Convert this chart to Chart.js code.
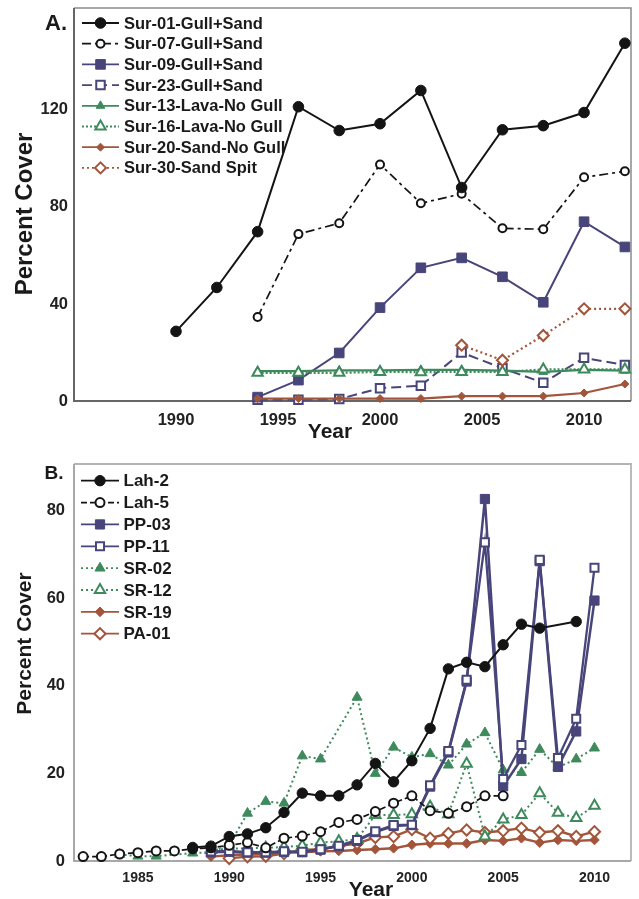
<!DOCTYPE html>
<html><head><meta charset="utf-8">
<script src="https://cdn.jsdelivr.net/npm/chart.js@4.4.1/dist/chart.umd.min.js"></script>
<style>
html,body{margin:0;padding:0;background:#fff;}
#wrap{position:relative;width:639px;height:899px;overflow:hidden;}
</style></head><body>
<div id="wrap">
<div style="position:absolute;left:0;top:0;width:639px;height:445px"><canvas id="ca" width="639" height="445"></canvas></div>
<div style="position:absolute;left:0;top:445px;width:639px;height:454px"><canvas id="cb" width="639" height="454"></canvas></div>
</div>
<script>
// ---------- Panel A data ----------
const yearsA = [1990,1992,1994,1996,1998,2000,2002,2004,2006,2008,2010,2012];
const sur01 = [28.7,46.8,69.8,121.3,111.5,114.3,128,88,111.8,113.5,118.9,147.5];
const sur07 = [null,null,34.6,68.8,73.3,97.5,81.5,85.4,71.2,70.8,92.2,94.7];
const sur09 = [null,null,1.6,8.6,19.8,38.5,54.9,59,51.2,40.7,73.9,63.5];
const sur23 = [null,null,0.5,0.5,0.8,5.3,6.3,20,13.5,7.5,17.8,14.8];
const sur13 = [null,null,12.3,12.3,12.6,12.6,12.8,12.8,12.5,12,12.8,12.5];
const sur16 = [null,null,11.6,11.6,11.6,12,11.9,12,12,13,13,13];
const sur20 = [null,null,1,1,1,1,1,2,2,2,3.3,7];
const sur30 = [null,null,null,null,null,null,null,23,16.8,27,38,38];
const xTicksA = [1990,1995,2000,2005,2010];
const yTicksA = [0,40,80,120];

// ---------- Panel B data ----------
const yearsB = [1982,1983,1984,1985,1986,1987,1988,1989,1990,1991,1992,1993,1994,1995,1996,1997,1998,1999,2000,2001,2002,2003,2004,2005,2006,2007,2008,2009,2010];
const lah2 = [null,null,null,null,null,null,3.1,3.4,5.6,6.2,7.6,11.1,15.5,14.9,14.9,17.4,22.3,18.1,22.9,30.3,43.9,45.4,44.4,49.4,54.1,53.2,null,54.7,null];
const lah5 = [1.0,1.0,1.6,1.9,2.3,2.3,2.8,3.0,3.6,4.2,3.0,5.2,5.7,6.7,8.8,9.5,11.3,13.2,14.9,11.5,10.9,12.4,14.9,14.9,null,null,null,null,null];
const pp03 = [null,null,null,null,null,null,null,2.0,2.1,1.9,1.9,2.1,2.0,2.6,3.4,4.6,6.6,8.0,8.2,17.0,24.8,41.0,82.7,17.1,23.3,68.5,21.5,29.6,59.5];
const pp11 = [null,null,null,null,null,null,null,2.2,2.3,2.0,2.0,2.2,2.1,2.7,3.5,4.8,6.8,8.2,8.3,17.3,25.1,41.4,72.8,18.7,26.5,68.8,23.5,32.5,67.0];
const sr02 = [null,null,1.5,1.1,1.1,null,1.8,2.0,3.7,10.9,13.6,13.2,24.0,23.3,null,37.4,20.0,26.0,23.7,24.5,21.9,26.7,29.3,20.8,20.2,25.5,21.4,23.3,25.8];
const sr12 = [null,null,null,null,null,null,null,2.5,2.8,2.9,3.0,3.2,3.5,4.2,4.5,5.0,10.5,10.5,10.7,12.4,10.7,22.2,5.6,9.5,10.5,15.5,11.0,9.8,12.6];
const sr19 = [null,null,null,null,null,null,null,1.0,1.3,1.5,1.7,2.0,2.0,2.2,2.3,2.5,2.7,2.9,3.7,4.0,4.0,4.0,4.8,4.6,5.2,4.2,4.8,4.6,4.8];
const pa01 = [null,null,null,null,null,null,null,null,0.6,1.0,1.1,1.7,2.5,2.7,3.4,4.0,5.4,5.6,7.2,5.2,6.3,7.1,6.5,6.9,7.5,6.5,6.9,5.6,6.7];
const xTicksB = [1985,1990,1995,2000,2005,2010];
const yTicksB = [0,20,40,60,80];

// ---------- styling ----------
const FONT = "'Liberation Sans', Arial, Helvetica, sans-serif";
const BLACK = '#141414', PURPLE = '#47457A', GREEN = '#3E8A5D', BROWN = '#A2553B';

function pts(years, vals){ return years.map((x,i)=>({x:x, y:vals[i]})); }
function ds(label, years, vals, color, style, filled, radius, dash, width, order){
  return {
    label: label, data: pts(years, vals),
    borderColor: color, borderWidth: width, borderDash: dash,
    pointStyle: style, pointRadius: radius, pointHoverRadius: radius,
    pointBackgroundColor: filled ? color : '#ffffff',
    pointBorderColor: color, pointBorderWidth: filled ? 1 : 2,
    spanGaps: true, tension: 0, fill: false, clip: false, order: order
  };
}

const framePlugin = {
  id: 'frame',
  beforeDatasetsDraw(chart, args, o){
    const ctx = chart.ctx, a = chart.chartArea;
    ctx.save();
    ctx.strokeStyle = o.light; ctx.lineWidth = o.lw;
    ctx.beginPath(); ctx.moveTo(a.left, a.top); ctx.lineTo(a.right, a.top); ctx.lineTo(a.right, a.bottom); ctx.stroke();
    ctx.strokeStyle = o.dark; ctx.lineWidth = o.dw;
    ctx.beginPath(); ctx.moveTo(a.left, a.top); ctx.lineTo(a.left, a.bottom); ctx.lineTo(a.right, a.bottom); ctx.stroke();
    ctx.restore();
  }
};

const legendPlugin = {
  id: 'lineLegend',
  afterDatasetsDraw(chart, args, o){
    const ctx = chart.ctx, a = chart.chartArea;
    chart.data.datasets.forEach((d, i) => {
      const y = a.top + o.y0 + i * o.dy;
      const x0 = a.left + o.x0, x1 = a.left + o.x1;
      ctx.save();
      ctx.strokeStyle = d.borderColor; ctx.lineWidth = Math.min(d.borderWidth, 1.8);
      ctx.setLineDash(d.borderDash || []);
      ctx.beginPath(); ctx.moveTo(x0, y); ctx.lineTo(x1, y); ctx.stroke();
      ctx.setLineDash([]);
      ctx.fillStyle = d.pointBackgroundColor; ctx.strokeStyle = d.pointBorderColor; ctx.lineWidth = d.pointBorderWidth;
      Chart.helpers.drawPoint(ctx, {pointStyle: d.pointStyle, radius: d.pointRadius, rotation: 0, borderWidth: d.pointBorderWidth}, (x0 + x1) / 2, y);
      ctx.fillStyle = '#1a1a1a'; ctx.font = o.font; ctx.textBaseline = 'middle'; ctx.textAlign = 'left';
      ctx.fillText(d.label, a.left + o.tx, y + 1);
      ctx.restore();
    });
  }
};

const textPlugin = {
  id: 'texts',
  afterDraw(chart, args, o){
    const ctx = chart.ctx;
    (o.items || []).forEach(t => {
      ctx.save();
      ctx.font = t.font; ctx.fillStyle = '#1a1a1a';
      ctx.textAlign = 'center'; ctx.textBaseline = 'middle';
      ctx.translate(t.x, t.y);
      if (t.rot) ctx.rotate(t.rot);
      ctx.fillText(t.text, 0, 0);
      ctx.restore();
    });
  }
};

function scales(xmin, xmax, xt, ymax, yt, xfont, yfont, xpad, ypad, xh){
  return {
    x: {
      type: 'linear', min: xmin, max: xmax,
      afterBuildTicks: s => { s.ticks = xt.map(v => ({value: v})); },
      ticks: {font: {family: FONT, size: xfont, weight: 'bold'}, color: '#222', padding: xpad, maxRotation: 0, autoSkip: false, callback: v => String(v)},
      grid: {display: false, drawTicks: false}, border: {display: false},
      afterFit: s => { s.height = xh; s.paddingLeft = 0; s.paddingRight = 0; }
    },
    y: {
      type: 'linear', min: 0, max: ymax,
      afterBuildTicks: s => { s.ticks = yt.map(v => ({value: v})); },
      ticks: {font: {family: FONT, size: yfont, weight: 'bold'}, color: '#222', padding: ypad, callback: v => String(v)},
      grid: {display: false, drawTicks: false}, border: {display: false},
      afterFit: s => { s.width = 74; s.paddingTop = 0; s.paddingBottom = 0; }
    }
  };
}

new Chart(document.getElementById('ca'), {
  type: 'line',
  data: {datasets: [
    ds('Sur-01-Gull+Sand', yearsA, sur01, BLACK, 'circle', true, 5.3, [], 2, 0),
    ds('Sur-07-Gull+Sand', yearsA, sur07, BLACK, 'circle', false, 4, [9,4,3,4], 1.7, 1),
    ds('Sur-09-Gull+Sand', yearsA, sur09, PURPLE, 'rect', true, 6.8, [], 2, 6),
    ds('Sur-23-Gull+Sand', yearsA, sur23, PURPLE, 'rect', false, 6, [10,5], 2, 7),
    ds('Sur-13-Lava-No Gull', yearsA, sur13, GREEN, 'triangle', true, 5, [], 2.2, 5),
    ds('Sur-16-Lava-No Gull', yearsA, sur16, GREEN, 'triangle', false, 6, [2,2], 2.2, 4),
    ds('Sur-20-Sand-No Gull', yearsA, sur20, BROWN, 'rectRot', true, 4, [], 2.2, 2),
    ds('Sur-30-Sand Spit', yearsA, sur30, BROWN, 'rectRot', false, 5.5, [2,3], 2.2, 3)
  ]},
  options: {
    responsive: false, animation: false, events: [],
    layout: {padding: {left: 0, top: 5, right: 4, bottom: 0}},
    scales: scales(1985, 2012.3, xTicksA, 162, yTicksA, 16.5, 16.5, 10, 6, 44),
    plugins: {
      legend: {display: false}, tooltip: {enabled: false},
      frame: {light: '#8c8c8c', lw: 1.5, dark: '#666666', dw: 2},
      lineLegend: {x0: 8, x1: 45, tx: 50, y0: 15, dy: 20.7, font: "bold 16.5px " + FONT},
      texts: {items: [
        {text: 'A.', x: 56, y: 24, font: 'bold 22px ' + FONT},
        {text: 'Percent Cover', x: 25, y: 214, rot: -Math.PI/2, font: 'bold 24px ' + FONT},
        {text: 'Year', x: 330, y: 432, font: 'bold 21px ' + FONT}
      ]}
    }
  },
  plugins: [framePlugin, legendPlugin, textPlugin]
});

new Chart(document.getElementById('cb'), {
  type: 'line',
  data: {datasets: [
    ds('Lah-2', yearsB, lah2, BLACK, 'circle', true, 5.2, [], 2, 0),
    ds('Lah-5', yearsB, lah5, BLACK, 'circle', false, 4.5, [6,3], 1.7, 1),
    ds('PP-03', yearsB, pp03, PURPLE, 'rect', true, 6.5, [], 2.5, 3),
    ds('PP-11', yearsB, pp11, PURPLE, 'rect', false, 5.7, [], 2.3, 2),
    ds('SR-02', yearsB, sr02, GREEN, 'triangle', true, 5.8, [2,3], 2, 4),
    ds('SR-12', yearsB, sr12, GREEN, 'triangle', false, 6, [2,3], 2, 5),
    ds('SR-19', yearsB, sr19, BROWN, 'rectRot', true, 4.8, [], 2.4, 7),
    ds('PA-01', yearsB, pa01, BROWN, 'rectRot', false, 5.6, [], 2.4, 6)
  ]},
  options: {
    responsive: false, animation: false, events: [],
    layout: {padding: {left: 0, top: 19, right: 2, bottom: 0}},
    scales: scales(1981.5, 2012, xTicksB, 90.7, yTicksB, 14, 16.5, 9, 9, 38),
    plugins: {
      legend: {display: false}, tooltip: {enabled: false},
      frame: {light: '#b4b4b4', lw: 1.8, dark: '#a8a8a8', dw: 2},
      lineLegend: {x0: 7, x1: 45, tx: 49.5, y0: 16.7, dy: 21.86, font: "bold 17px " + FONT},
      texts: {items: [
        {text: 'B.', x: 54, y: 29, font: 'bold 19px ' + FONT},
        {text: 'Percent Cover', x: 25, y: 198.5, rot: -Math.PI/2, font: 'bold 21px ' + FONT},
        {text: 'Year', x: 371, y: 445, font: 'bold 21px ' + FONT}
      ]}
    }
  },
  plugins: [framePlugin, legendPlugin, textPlugin]
});
</script>
</body></html>
